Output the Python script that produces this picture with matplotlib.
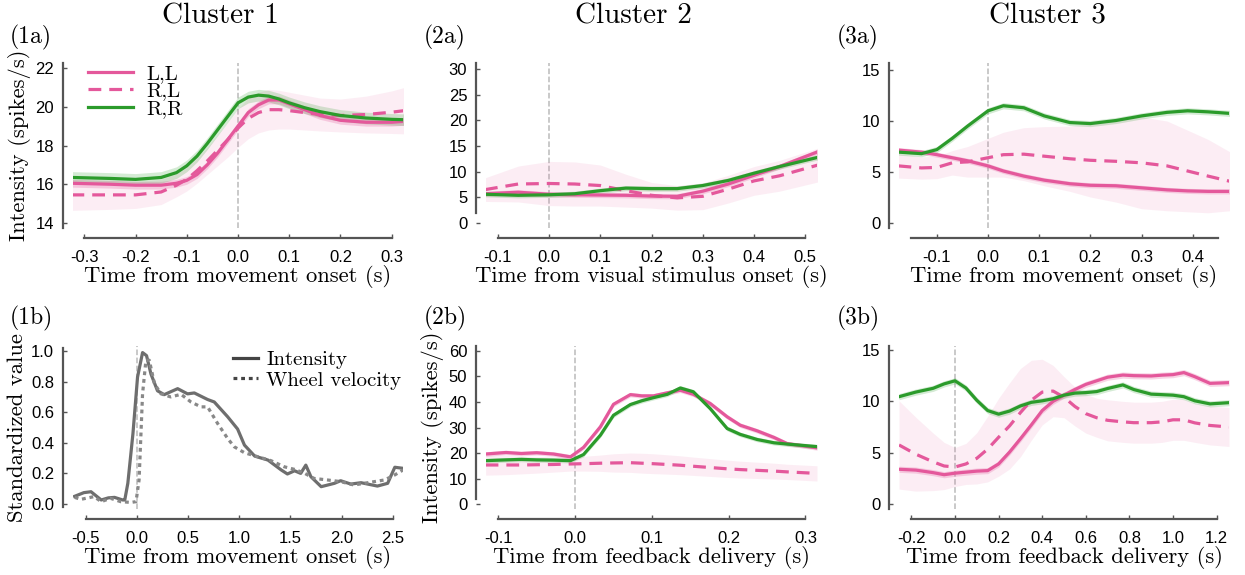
import numpy as np
import matplotlib.pyplot as plt

plt.rcParams['font.family'] = ['Liberation Sans', 'DejaVu Sans']
plt.rcParams['axes.unicode_minus'] = False
SERIF = 'cmr10'

PINK = '#e4589b'
GREEN = '#2b9b2b'
GRAY = '#6e6e6e'

# (1a) cluster 1, movement onset
t_1a = [-0.325, -0.25, -0.2, -0.15, -0.12, -0.1, -0.08, -0.06, -0.04, -0.02, 0.0,
        0.02, 0.04, 0.06, 0.08, 0.1, 0.13, 0.16, 0.2, 0.25, 0.3, 0.325]
ll_1a = [16.05, 16.0, 15.95, 15.95, 16.05, 16.2, 16.5, 17.0, 17.6, 18.3, 19.0,
         19.7, 20.1, 20.35, 20.35, 20.15, 19.85, 19.55, 19.3, 19.2, 19.2, 19.25]
rl_1a = [15.45, 15.45, 15.45, 15.6, 15.95, 16.25, 16.7, 17.2, 17.75, 18.3, 18.9,
         19.4, 19.7, 19.85, 19.85, 19.8, 19.7, 19.6, 19.55, 19.6, 19.72, 19.8]
rr_1a = [16.35, 16.3, 16.25, 16.35, 16.6, 16.95, 17.45, 18.1, 18.8, 19.5, 20.2,
         20.5, 20.6, 20.55, 20.4, 20.2, 19.95, 19.75, 19.55, 19.42, 19.35, 19.33]
rl_err_1a = [0.8, 0.75, 0.7, 0.65, 0.6, 0.6, 0.65, 0.7, 0.8, 0.9, 1.0,
             1.05, 1.05, 1.05, 1.0, 0.95, 0.9, 0.85, 0.85, 0.95, 1.1, 1.2]
ll_err_1a, rr_err_1a = 0.2, 0.3

# (2a) cluster 2, visual stimulus onset
t_2a = [-0.125, -0.06, 0.0, 0.05, 0.1, 0.15, 0.2, 0.25, 0.3, 0.35, 0.4, 0.45, 0.525]
ll_2a = [5.7, 6.0, 5.6, 5.5, 5.45, 5.4, 5.25, 5.2, 6.2, 7.6, 9.3, 11.0, 13.9]
rl_2a = [6.5, 7.6, 7.7, 7.6, 7.3, 6.3, 5.4, 4.9, 5.2, 6.6, 8.2, 9.2, 11.3]
rr_2a = [5.6, 5.4, 5.5, 5.7, 6.3, 6.8, 6.7, 6.7, 7.3, 8.3, 9.7, 11.0, 12.8]
rl_err_2a = [2.3, 3.5, 4.3, 4.3, 4.0, 3.2, 2.5, 2.4, 2.6, 2.7, 2.8, 3.0, 3.3]
ll_err_2a, rr_err_2a = 0.5, 0.5

# (3a) cluster 3, movement onset
t_3a = [-0.175, -0.13, -0.1, -0.07, -0.04, 0.0, 0.03, 0.07, 0.11, 0.16, 0.2, 0.25,
        0.3, 0.35, 0.39, 0.43, 0.472]
ll_3a = [7.15, 6.95, 6.7, 6.4, 6.1, 5.6, 5.1, 4.6, 4.2, 3.85, 3.7, 3.65, 3.45, 3.25,
         3.15, 3.1, 3.1]
rl_3a = [5.6, 5.4, 5.45, 5.9, 6.0, 6.4, 6.7, 6.75, 6.55, 6.3, 6.15, 6.05, 5.9, 5.6,
         5.1, 4.6, 4.1]
rr_3a = [6.95, 6.8, 7.2, 8.3, 9.5, 11.0, 11.5, 11.3, 10.5, 9.85, 9.75, 10.05, 10.5,
         10.85, 11.0, 10.9, 10.75]
rl_err_3a = [1.2, 1.1, 1.1, 1.2, 1.5, 1.9, 2.2, 2.6, 2.9, 3.2, 3.6, 4.0, 4.5, 4.4,
             4.0, 3.6, 2.9]
ll_err_3a, rr_err_3a = 0.25, 0.3

# (1b) intensity vs wheel velocity
t_int = [-0.61, -0.52, -0.45, -0.35, -0.28, -0.22, -0.14, -0.12, -0.09, -0.04, 0.005,
         0.054, 0.093, 0.136, 0.2, 0.266, 0.397, 0.494, 0.56, 0.69, 0.755, 0.886,
         0.983, 1.05, 1.15, 1.28, 1.41, 1.47, 1.54, 1.6, 1.65, 1.7, 1.8, 1.93, 1.99,
         2.09, 2.19, 2.255, 2.35, 2.45, 2.52, 2.6]
intensity = [0.05, 0.074, 0.08, 0.026, 0.04, 0.043, 0.026, 0.026, 0.135, 0.46, 0.83,
             0.99, 0.97, 0.85, 0.74, 0.715, 0.754, 0.72, 0.726, 0.683, 0.667, 0.57,
             0.49, 0.385, 0.313, 0.287, 0.222, 0.196, 0.217, 0.2, 0.254, 0.178, 0.113,
             0.135, 0.152, 0.13, 0.139, 0.13, 0.117, 0.135, 0.24, 0.233]
t_whl = [-0.61, -0.55, -0.42, -0.35, -0.26, -0.16, -0.06, -0.01, 0.02, 0.054, 0.087,
         0.12, 0.17, 0.234, 0.33, 0.43, 0.527, 0.625, 0.69, 0.788, 0.886, 0.95, 1.05,
         1.18, 1.31, 1.44, 1.54, 1.64, 1.73, 1.86, 1.99, 2.12, 2.22, 2.32, 2.42, 2.52,
         2.6]
wheel = [0.043, 0.03, 0.048, 0.015, 0.037, 0.015, 0.01, 0.015, 0.157, 0.72, 0.94,
         0.94, 0.787, 0.72, 0.7, 0.717, 0.667, 0.635, 0.635, 0.526, 0.428, 0.374,
         0.335, 0.309, 0.283, 0.243, 0.226, 0.2, 0.167, 0.157, 0.146, 0.124, 0.135,
         0.146, 0.157, 0.19, 0.222]

# (2b) cluster 2, feedback delivery
t_2b = [-0.1165, -0.09, -0.07, -0.05, -0.028, -0.006, 0.011, 0.033, 0.05, 0.072,
        0.087, 0.102, 0.12, 0.137, 0.154, 0.176, 0.198, 0.215, 0.237, 0.259, 0.276,
        0.315]
ll_2b = [19.6, 20.2, 19.8, 20.1, 19.6, 18.5, 22.2, 30.3, 39.1, 42.9, 42.4, 42.4,
         43.6, 44.6, 43.0, 39.4, 34.2, 30.9, 28.7, 26.1, 23.7, 22.0]
rl_2b = [15.3, 15.3, 15.3, 15.4, 15.5, 15.7, 15.8, 16.0, 16.1, 16.2, 16.0, 15.8,
         15.5, 15.2, 14.8, 14.3, 13.8, 13.5, 13.2, 12.9, 12.6, 12.0]
rr_2b = [17.0, 17.3, 17.5, 17.3, 17.2, 17.0, 19.4, 27.0, 34.8, 39.0, 40.5, 41.7,
         43.0, 45.5, 44.0, 37.4, 29.6, 27.3, 25.3, 24.0, 23.5, 22.5]
rl_err_2b = [4.0, 3.8, 3.5, 3.3, 3.0, 2.8, 2.9, 3.2, 3.6, 3.8, 3.9, 3.9, 3.8, 3.7,
             3.6, 3.5, 3.4, 3.3, 3.2, 3.1, 3.0, 3.0]
ll_err_2b, rr_err_2b = 0.9, 0.9

# (3b) cluster 3, feedback delivery
t_3b = [-0.257, -0.18, -0.1, -0.05, 0.0, 0.05, 0.1, 0.15, 0.2, 0.25, 0.3, 0.35, 0.4,
        0.45, 0.5, 0.55, 0.6, 0.65, 0.7, 0.77, 0.82, 0.9, 0.95, 1.0, 1.05, 1.1, 1.17,
        1.257]
ll_3b = [3.38, 3.3, 3.05, 2.85, 3.0, 3.1, 3.2, 3.25, 3.9, 5.05, 6.35, 7.7, 9.1, 10.0,
         10.6, 11.15, 11.65, 12.0, 12.35, 12.56, 12.5, 12.47, 12.55, 12.6, 12.8, 12.4,
         11.75, 11.82]
rl_3b = [5.75, 4.85, 4.1, 3.7, 3.6, 3.9, 4.45, 5.35, 6.5, 7.6, 8.9, 10.1, 10.9, 11.0,
         10.4, 9.5, 8.8, 8.4, 8.15, 8.0, 7.92, 7.92, 8.0, 8.2, 8.2, 7.9, 7.65, 7.5]
rr_3b = [10.45, 10.9, 11.27, 11.7, 12.0, 11.3, 10.1, 9.1, 8.75, 9.05, 9.55, 9.9,
         10.05, 10.25, 10.6, 10.8, 10.85, 10.95, 11.25, 11.6, 11.15, 10.7, 10.65, 10.6,
         10.45, 10.05, 9.75, 9.87]
rl_err_3b = [4.3, 3.6, 2.8, 2.3, 1.9, 2.0, 2.5, 3.2, 3.8, 4.2, 4.3, 3.9, 3.2, 2.5,
             2.0, 1.9, 1.9, 1.9, 2.0, 2.0, 2.0, 2.0, 2.0, 2.0, 2.0, 1.9, 1.9, 1.9]
ll_err_3b, rr_err_3b = 0.3, 0.3

W, H = 1245, 575
fig = plt.figure(figsize=(W / 100, H / 100), dpi=100)


def make_ax(left, top, right, bottom):
    return fig.add_axes([left / W, 1 - bottom / H, (right - left) / W, (bottom - top) / H])


def style(ax, xlim, ylim, xb, yb, xticks, yticks, xfmt, yfmt):
    ax.set_xlim(xlim)
    ax.set_ylim(ylim)
    for s in ['top', 'right']:
        ax.spines[s].set_visible(False)
    for s in ['left', 'bottom']:
        ax.spines[s].set_position(('outward', 7.5))
        ax.spines[s].set_color('#555555')
        ax.spines[s].set_linewidth(1.6)
    ax.spines['bottom'].set_bounds(*xb)
    ax.spines['left'].set_bounds(*yb)
    ax.set_xticks(xticks, [xfmt % v for v in xticks])
    ax.set_yticks(yticks, [yfmt % v for v in yticks])
    ax.tick_params(labelsize=12, length=3, width=1, color='#555555', direction='in')
    ax.tick_params(axis='x', pad=8)
    ax.tick_params(axis='y', pad=6)
    ax.axvline(0, color='#bbbbbb', ls='--', lw=1.1, zorder=0)


def trio(ax, t, ll, rl, rr, ll_e, rl_e, rr_e):
    t = np.array(t)
    ll, rl, rr = np.array(ll), np.array(rl), np.array(rr)
    rl_e = np.array(rl_e)
    ax.fill_between(t, rl - rl_e, rl + rl_e, color=PINK, alpha=0.1, lw=0)
    ax.fill_between(t, ll - ll_e, ll + ll_e, color=PINK, alpha=0.25, lw=0)
    ax.fill_between(t, rr - rr_e, rr + rr_e, color=GREEN, alpha=0.2, lw=0)
    ax.plot(t, ll, color=PINK, lw=2.3, label='L,L')
    ax.plot(t, rl, color=PINK, lw=2.3, ls=(0, (4, 2.5)), label='R,L')
    ax.plot(t, rr, color=GREEN, lw=2.3, label='R,R')


def xlab(ax, s):
    ax.set_xlabel(s, fontfamily=SERIF, fontsize=16.3, labelpad=0)


def ylab(ax, s):
    ax.set_ylabel(s, fontfamily=SERIF, fontsize=16.3, labelpad=3)


# row a
ax1a = make_ax(73, 63, 403, 228)
trio(ax1a, t_1a, ll_1a, rl_1a, rr_1a, ll_err_1a, rl_err_1a, rr_err_1a)
style(ax1a, (-0.322, 0.322), (13.74, 22.26), (-0.3, 0.3), (13.74, 22.26),
      [-0.3, -0.2, -0.1, 0.0, 0.1, 0.2, 0.3], [14, 16, 18, 20, 22], '%.1f', '%d')
xlab(ax1a, 'Time from movement onset (s)')
ylab(ax1a, 'Intensity (spikes/s)')
ax1a.legend(loc='upper left', bbox_to_anchor=(0.0, 1.08), frameon=False,
            prop={'family': SERIF, 'size': 15}, handlelength=2.2, handletextpad=0.6,
            labelspacing=-0.05, borderaxespad=0.3)

ax2a = make_ax(486, 63, 817, 228)
trio(ax2a, t_2a, ll_2a, rl_2a, rr_2a, ll_err_2a, rl_err_2a, rr_err_2a)
style(ax2a, (-0.123, 0.523), (-0.97, 31.17), (-0.1, 0.5), (1.95, 31.17),
      [-0.1, 0.0, 0.1, 0.2, 0.3, 0.4, 0.5], [0, 5, 10, 15, 20, 25, 30], '%.1f', '%d')
xlab(ax2a, 'Time from visual stimulus onset (s)')

ax3a = make_ax(899, 63, 1229, 228)
trio(ax3a, t_3a, ll_3a, rl_3a, rr_3a, ll_err_3a, rl_err_3a, rr_err_3a)
style(ax3a, (-0.174, 0.471), (-0.49, 15.69), (-0.15, 0.45), (-0.49, 15.69),
      [-0.1, 0.0, 0.1, 0.2, 0.3, 0.4], [0, 5, 10, 15], '%.1f', '%d')
xlab(ax3a, 'Time from movement onset (s)')

# row b
ax1b = make_ax(73, 346, 403, 509)
ax1b.plot(t_int, intensity, color=GRAY, lw=2.3, label='Intensity')
ax1b.plot(t_whl, wheel, color='#888888', lw=2.3, ls=(0, (1.2, 1.2)), label='Wheel velocity')
style(ax1b, (-0.626, 2.6), (-0.033, 1.033), (-0.5, 2.5), (-0.02, 1.02),
      [-0.5, 0.0, 0.5, 1.0, 1.5, 2.0, 2.5], [0.0, 0.2, 0.4, 0.6, 0.8, 1.0], '%.1f', '%.1f')
xlab(ax1b, 'Time from movement onset (s)')
ylab(ax1b, 'Standardized value')
leg = ax1b.legend(loc='upper right', bbox_to_anchor=(1.04, 1.06), frameon=False,
                  prop={'family': SERIF, 'size': 15}, handlelength=1.2,
                  handletextpad=0.4, labelspacing=0.08, borderaxespad=0.3)
leg.get_lines()[0].set_color('#444444')
leg.get_lines()[1].set_color('#444444')

ax2b = make_ax(486, 346, 817, 509)
trio(ax2b, t_2b, ll_2b, rl_2b, rr_2b, ll_err_2b, rl_err_2b, rr_err_2b)
style(ax2b, (-0.116, 0.315), (-1.96, 61.96), (-0.1, 0.3), (2, 61.96),
      [-0.1, 0.0, 0.1, 0.2, 0.3], [0, 10, 20, 30, 40, 50, 60], '%.1f', '%d')
xlab(ax2b, 'Time from feedback delivery (s)')
ylab(ax2b, 'Intensity (spikes/s)')

ax3b = make_ax(899, 346, 1229, 509)
trio(ax3b, t_3b, ll_3b, rl_3b, rr_3b, ll_err_3b, rl_err_3b, rr_err_3b)
style(ax3b, (-0.257, 1.257), (-0.49, 15.39), (-0.2, 1.2), (-0.49, 15.39),
      [-0.2, 0.0, 0.2, 0.4, 0.6, 0.8, 1.0, 1.2], [0, 5, 10, 15], '%.1f', '%d')
xlab(ax3b, 'Time from feedback delivery (s)')

for x, s in [(220, 'Cluster 1'), (633, 'Cluster 2'), (1047, 'Cluster 3')]:
    fig.text(x / W, 1 - 16 / H, s, ha='center', va='center', fontfamily=SERIF, fontsize=21)
for x, y, s in [(10, 37, '(1a)'), (424, 37, '(2a)'), (837, 37, '(3a)'),
                (10, 318, '(1b)'), (424, 318, '(2b)'), (837, 318, '(3b)')]:
    fig.text(x / W, 1 - y / H, s, ha='left', va='center', fontfamily=SERIF, fontsize=17)

fig.savefig('out.png', dpi=100)
